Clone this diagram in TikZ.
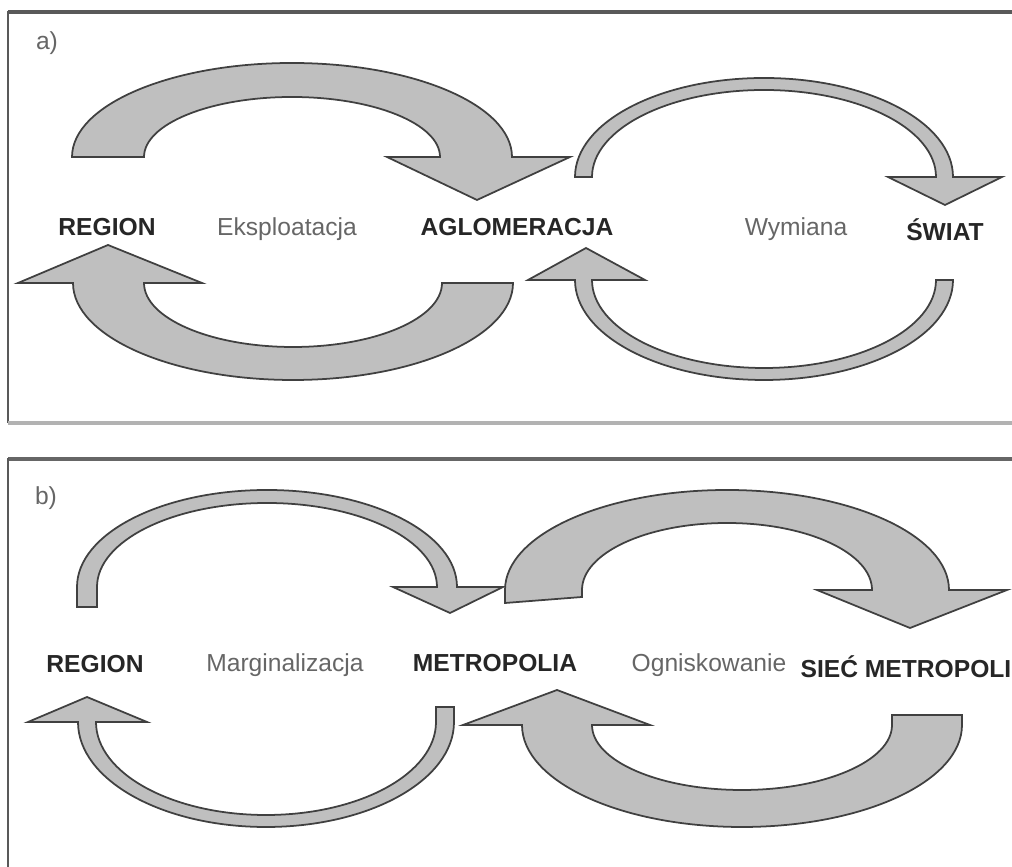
\documentclass[tikz,border=0pt]{standalone}
\usepackage{fontspec}
\setmainfont{Liberation Sans}

\begin{document}
\begin{tikzpicture}[x=0.01cm, y=0.01cm,
        blockarrow/.style={draw=black!75, fill=black!25, line width=0.5pt, line join=miter},
        bigname/.style={font=\bfseries\fontsize{7}{8}\selectfont, text=black!85, inner sep=0pt},
        flowname/.style={font=\fontsize{7}{8}\selectfont, text=black!60, inner sep=0pt}]

            % the frame
            \useasboundingbox (0, 0) rectangle (1012, 867);
            \path[clip] (0, 0) rectangle (1012, 867);
            \draw[black!65, line width=1.2pt] (8, 855) -- (1030, 855);
            \draw[black!65, line width=0.6pt] (8, 856) -- (8, 444);
            \draw[black!30, line width=0.9pt] (8, 444) -- (1030, 444);
            \draw[black!60, line width=1.2pt] (8, 408) -- (1030, 408);
            \draw[black!65, line width=0.6pt] (8, 409) -- (8, -10);

            % a) the arrows
            \draw[blockarrow] (72, 710) arc[start angle=180, end angle=0, x radius=220, y radius=94]
                -- (570, 710) -- (477, 667) -- (387, 710) -- (440, 710)
                arc[start angle=0, end angle=180, x radius=148, y radius=60] -- cycle;
            \draw[blockarrow] (513, 584) arc[start angle=0, end angle=-180, x radius=220, y radius=97]
                -- (18, 584) -- (108, 622) -- (202, 584) -- (144, 584)
                arc[start angle=-180, end angle=0, x radius=149, y radius=64] -- cycle;
            \draw[blockarrow] (575, 690) arc[start angle=180, end angle=0, x radius=189, y radius=99]
                -- (1002, 690) -- (945, 662) -- (888, 690) -- (936, 690)
                arc[start angle=0, end angle=180, x radius=172, y radius=87] -- cycle;
            \draw[blockarrow] (953, 587) arc[start angle=0, end angle=-180, x radius=189, y radius=100]
                -- (528, 587) -- (586, 619) -- (645, 587) -- (592, 587)
                arc[start angle=-180, end angle=0, x radius=172, y radius=88] -- cycle;

            % b) the arrows
            \draw[blockarrow] (77, 260) -- (77, 280) arc[start angle=180, end angle=0, x radius=190, y radius=97]
                -- (503, 280) -- (450, 254) -- (393, 280) -- (437, 280)
                arc[start angle=0, end angle=180, x radius=170, y radius=84] -- (97, 260) -- cycle;
            \draw[blockarrow] (454, 160) -- (454, 145) arc[start angle=0, end angle=-180, x radius=188, y radius=105]
                -- (28, 145) -- (87, 170) -- (147, 145) -- (96, 145)
                arc[start angle=-180, end angle=0, x radius=170, y radius=93] -- (436, 160) -- cycle;
            \draw[blockarrow] (505, 264) -- (505, 277) arc[start angle=180, end angle=0, x radius=222, y radius=100]
                -- (1007, 277) -- (910, 239) -- (817, 277) -- (872, 277)
                arc[start angle=0, end angle=180, x radius=145, y radius=67] -- (582, 270) -- cycle;
            \draw[blockarrow] (962, 152) -- (962, 142) arc[start angle=0, end angle=-180, x radius=220, y radius=102]
                -- (463, 142) -- (557, 177) -- (650, 142) -- (592, 142)
                arc[start angle=-180, end angle=0, x radius=150, y radius=65] -- (892, 152) -- cycle;

            % labels
            \node[flowname] (parta) at (47, 824) {a)};
            \node[bigname, anchor=base] (regiona) at (107, 631) {REGION};
            \node[flowname, anchor=base] (eksploatacja) at (287, 631) {Eksploatacja};
            \node[bigname, anchor=base] (aglomeracja) at (517, 631) {AGLOMERACJA};
            \node[flowname, anchor=base] (wymiana) at (796, 631) {Wymiana};
            \node[bigname, anchor=base] (swiat) at (945, 626) {ŚWIAT};

            \node[flowname] (partb) at (46, 369) {b)};
            \node[bigname, anchor=base] (regionb) at (95, 194) {REGION};
            \node[flowname, anchor=base] (marginalizacja) at (285, 195) {Marginalizacja};
            \node[bigname, anchor=base] (metropolia) at (495, 195) {METROPOLIA};
            \node[flowname, anchor=base] (ogniskowanie) at (709, 195) {Ogniskowanie};
            \node[bigname, anchor=base west] (siec) at (800, 189) {SIEĆ METROPOLII};
        \end{tikzpicture}
\end{document}
